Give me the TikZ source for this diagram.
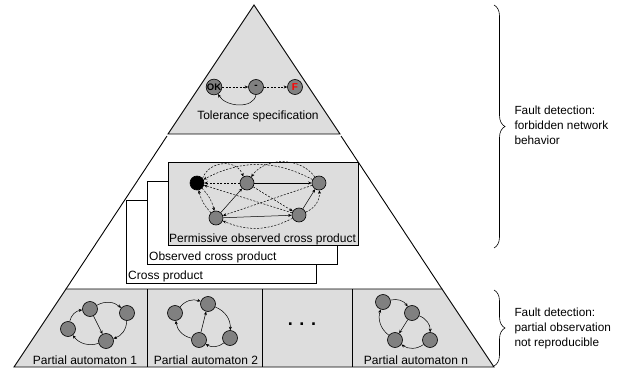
\documentclass[tikz,border=0pt]{standalone}
\usepackage{fontspec}
\setmainfont{Liberation Sans}
\usetikzlibrary{arrows.meta,decorations.pathreplacing}
\definecolor{layergray}{HTML}{DDDDDD}
\definecolor{stategray}{HTML}{808080}

\begin{document}
\begin{tikzpicture}[x=1pt,y=-1pt,font=\fontsize{12}{14}\selectfont]
    \newcommand{\staterad}{7.5pt} % radii of the states
    \newcommand{\boxwd}{190pt}
    \newcommand{\boxht}{83pt}

    % set the styles of states, transitions and layers
    \tikzset{
        state/.style={
            circle,
            draw,
            fill=stategray,
            minimum size=2*\staterad,
            inner sep=0pt,
            line width=0.6pt
            },
        trans/.style={
            -{Stealth[length=3.5pt,width=3pt]},
            line width=0.5pt
            },
        dtrans/.style={
            trans,
            dash pattern=on 2pt off 1.5pt
            },
        layer/.style={
            draw,
            line width=0.9pt
            },
        crossbox/.style={
            layer,
            fill=white,
            anchor=north west,
            minimum width=\boxwd,
            minimum height=\boxht
            },
        lbl/.style={anchor=south west, inner sep=2pt},
        side/.style={anchor=west, align=left, font=\fontsize{11.8}{15}\selectfont}
    }

    \useasboundingbox (0,0) rectangle (638,369);

    % pyramid
    \filldraw[layer, fill=layergray] (254,5) -- (340,134) -- (168,134) -- cycle;
    \draw[layer] (167,136) -- (66,289) (341,136) -- (442,289);
    \filldraw[layer, fill=layergray] (66,289) -- (442,289) -- (494,367) -- (14,367) -- cycle;
    \draw[layer] (147,289) -- (147,367) (262,289) -- (262,367) (352,289) -- (352,367);

    % tolerance specification
    \node[state, font=\fontsize{9.5}{9.5}\selectfont\bfseries] (ok) at (214,87) {OK};
    \node[state, font=\bfseries] (dash) at (256,87) {-};
    \node[state, font=\bfseries, text=red] (fail) at (295,87) {F};
    \draw[dtrans] (ok) -- (dash);
    \draw[dtrans] (dash) -- (fail);
    \draw[trans] (dash.south) to[out=-100, in=-60] (ok.-60);
    \node (tol) at (258,116) {Tolerance specification};

    % cross products
    \node[crossbox] (cross) at (126,200) {};
    \node[lbl] at (cross.south west) {Cross product};
    \node[crossbox] (obs) at (147,181) {};
    \node[lbl] at (obs.south west) {Observed cross product};
    \node[crossbox, fill=layergray] (perm) at (168,162) {};
    \node[lbl, inner sep=1pt] at (perm.south west) {Permissive observed cross product};

    % permissive states
    \node[state, fill=black, minimum size=14pt] (p1) at (197,183) {};
    \node[state, minimum size=14pt] (p2) at (247,183) {};
    \node[state, minimum size=14pt] (p3) at (319,183) {};
    \node[state, minimum size=14pt] (p4) at (216,218) {};
    \node[state, minimum size=14pt] (p5) at (299,215) {};
    \draw[trans] (p2) -- (p3);
    \draw[trans] (p4) -- (p2);
    \draw[trans] (p4) -- (p5);
    \draw[trans] (p5) -- (p3);
    \draw[dtrans] (p3) to[bend right=28] (p1);
    \draw[dtrans] (p3) to[bend right=55] (p2);
    \draw[dtrans] (p2) -- (p1);
    \draw[dtrans] (p1.40) to[out=70, in=110, looseness=1.2] (p2.120);
    \draw[dtrans] (p4) to[bend left=15] (p1);
    \draw[dtrans] (p1) to[bend left=15] (p4);
    \draw[dtrans] (p5) -- (p1);
    \draw[dtrans] (p2) -- (p5);
    \draw[dtrans] (p3) -- (p4);
    \draw[dtrans] (p5) to[bend left=25] (p4);
    \draw[dtrans] (p5) to[bend right=35] (p3);

    % partial automaton 1
    \node[state] (a1) at (68,329) {};
    \node[state] (a2) at (90,309) {};
    \node[state] (a3) at (127,313) {};
    \node[state] (a4) at (106,341) {};
    \draw[trans] (a1) to[bend left=35] (a2);
    \draw[trans] (a2) to[bend left=35] (a3);
    \draw[trans] (a2) -- (a4);
    \draw[trans] (a3) to[bend left=35] (a4);
    \draw[trans] (a4) to[bend left=35] (a1);
    \node (pa1) at (85,360) {Partial automaton 1};

    % partial automaton 2
    \node[state] (b1) at (175,313) {};
    \node[state] (b2) at (208,304) {};
    \node[state] (b3) at (199,340) {};
    \node[state] (b4) at (230,338) {};
    \draw[trans] (b1) to[bend left=35] (b2);
    \draw[trans] (b3) -- (b2);
    \draw[trans] (b3) to[bend left=35] (b1);
    \draw[trans] (b2) to[bend left=35] (b4);
    \draw[trans] (b4) to[bend left=35] (b3);
    \node (pa2) at (206,360) {Partial automaton 2};

    % dots
    \node[font=\fontsize{18}{18}\selectfont\bfseries] (dots) at (302,324) {. . .};

    % partial automaton n
    \node[state] (n1) at (383,302) {};
    \node[state] (n2) at (412,313) {};
    \node[state] (n3) at (395,340) {};
    \node[state] (n4) at (430,340) {};
    \draw[trans] (n1) to[bend left=35] (n2);
    \draw[trans] (n2) -- (n3);
    \draw[trans] (n2) to[bend left=35] (n4);
    \draw[trans] (n4) to[bend left=35] (n3);
    \draw[trans] (n3) to[bend left=35] (n1);
    \node (pan) at (416,360) {Partial automaton n};

    % braces
    \draw[decorate, decoration={brace, amplitude=11pt}, line width=0.6pt] (494,5) -- (494,248);
    \draw[decorate, decoration={brace, amplitude=11pt}, line width=0.6pt] (494,290) -- (494,366);
    \node[side] (fd1) at (511,125) {Fault detection:\\forbidden network\\behavior};
    \node[side] (fd2) at (511,328) {Fault detection:\\partial observation\\not reproducible};

\end{tikzpicture}
\end{document}
